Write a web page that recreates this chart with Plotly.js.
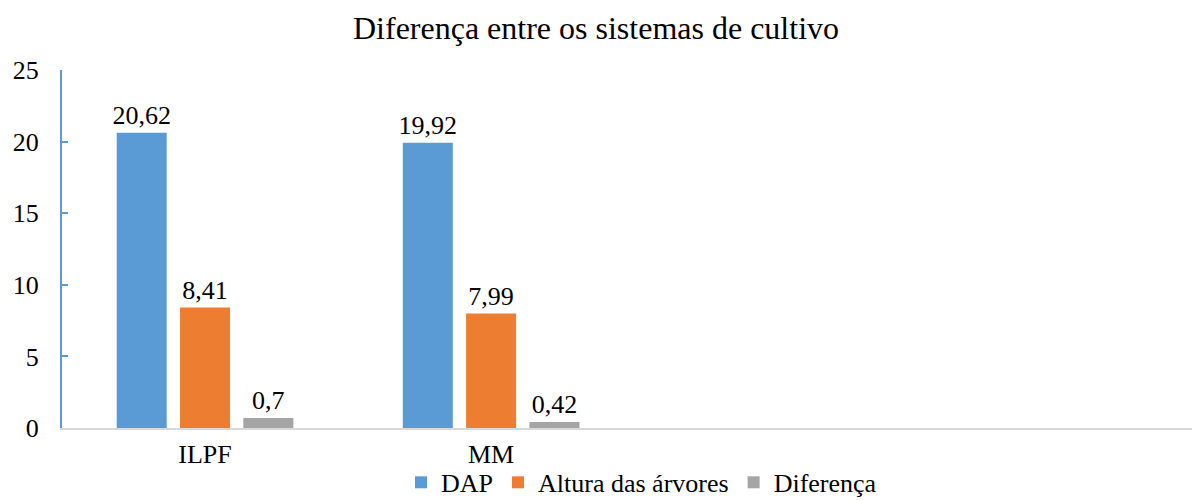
<!DOCTYPE html>
<html>
<head>
<meta charset="utf-8">
<script src="https://cdn.plot.ly/plotly-3.0.1.min.js"></script>
<style>html,body{margin:0;padding:0;background:#fff;}#chart{width:1192px;height:500px;}</style>
</head>
<body>
<div id="chart"></div>
<script>
const categories = ["ILPF", "MM"];
const seriesNames = ["DAP", "Altura das árvores", "Diferença"];
const dap = [20.62, 19.92];
const altura = [8.41, 7.99];
const diferenca = [0.7, 0.42];
const yTicks = [0, 5, 10, 15, 20, 25];

const colors = ["#5B9BD5", "#ED7D31", "#A5A5A5"];
const font = "'Liberation Serif', serif";
const seriesValues = [dap, altura, diferenca];

const traces = seriesValues.map((vals, i) => ({
  type: "bar",
  name: seriesNames[i],
  x: categories,
  y: vals,
  marker: {color: colors[i]},
  texttemplate: "%{y}",
  textposition: "outside",
  constraintext: "none",
  textfont: {family: font, size: 26, color: "#000"},
  cliponaxis: false,
  hoverinfo: "none"
}));

const layout = {
  width: 1192, height: 500,
  margin: {l: 62, r: 0, t: 70, b: 72, autoexpand: false},
  paper_bgcolor: "#fff", plot_bgcolor: "#fff",
  separators: ",.",
  font: {family: font, size: 26, color: "#000"},
  title: {text: "Diferença entre os sistemas de cultivo", font: {family: font, size: 32, color: "#000"}, x: 0.5, xanchor: "center", y: 0.945, yanchor: "middle"},
  barmode: "group",
  bargap: 0.336,
  bargroupgap: 0.21,
  showlegend: true,
  legend: {orientation: "h", x: 0.3, xanchor: "left", y: -0.152, yanchor: "middle", bgcolor: "rgba(0,0,0,0)", font: {family: font, size: 26, color: "#000"}, itemwidth: 30, tracegroupgap: 0},
  xaxis: {
    type: "category",
    range: [-0.5, 3.45],
    showline: true, linecolor: "#D9D9D9", linewidth: 2,
    ticks: "", showgrid: false, zeroline: false,
    tickfont: {family: font, size: 26, color: "#000"},
    ticklabelstandoff: 2,
    automargin: false,
    fixedrange: true
  },
  yaxis: {
    range: [0, 25],
    tickvals: yTicks,
    showline: true, linecolor: "#5B9BD5", linewidth: 2,
    ticks: "inside", ticklen: 6, tickcolor: "#5B9BD5", tickwidth: 2,
    showgrid: false, zeroline: false,
    tickfont: {family: font, size: 26, color: "#000"},
    ticklabelstandoff: 16,
    automargin: false,
    fixedrange: true
  }
};

Plotly.newPlot("chart", traces, layout, {displayModeBar: false, staticPlot: true});
</script>
</body>
</html>
